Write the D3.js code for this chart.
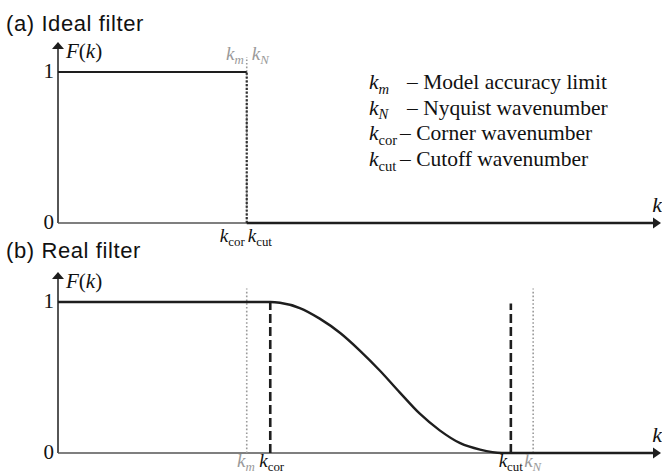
<!DOCTYPE html>
<html>
<head>
<meta charset="utf-8">
<script src="https://cdn.jsdelivr.net/npm/d3@7"></script>
<style>
  html, body { margin: 0; padding: 0; background: #fff; }
  svg { display: block; }
  .serif { font-family: "Liberation Serif", "Times New Roman", "DejaVu Serif", serif; }
  .sans { font-family: "Liberation Sans", Arial, Helvetica, sans-serif; }
</style>
</head>
<body>
<svg id="chart" width="662" height="476"></svg>
<script>
// ---------- data ----------
const panelTitles = ["(a) Ideal filter", "(b) Real filter"];
const yTickValues = [0, 1];
const kDomain = [0, 10];

// (a) ideal filter: all four wavenumbers coincide
const idealK = 3.13;
const idealResponseK = [0, 3.13, 3.13, 9.9];
const idealResponseF = [1, 1, 0, 0];

// (b) real filter marker wavenumbers
const realMarkerNames = ["km", "kcor", "kcut", "kN"];
const realMarkerK = [3.13, 3.52, 7.51, 7.88];
const realMarkerTop = [1.09, 1.0, 0.99, 1.09];

// (b) real filter response
const realCurveK = [0, 3.52, 3.68, 4.01, 4.34, 4.68, 5.01, 5.34, 5.67, 6.00, 6.33, 6.67, 7.00, 7.36, 9.9];
const realCurveF = [1, 1, 0.995, 0.96, 0.89, 0.795, 0.677, 0.545, 0.40, 0.26, 0.15, 0.065, 0.022, 0, 0];

// legend
const legendSub = ["m", "N", "cor", "cut"];
const legendSubItalic = [true, true, false, false];
const legendText = ["– Model accuracy limit", "– Nyquist wavenumber", "– Corner wavenumber", "– Cutoff wavenumber"];

// ---------- drawing ----------
const svg = d3.select("#chart");
const DARK = "#1e1e1e";
const GRAY = "#9a9a9a";

const x = d3.scaleLinear().domain(kDomain).range([58, 661]);
const yA = d3.scaleLinear().domain([0, 1]).range([223, 72]);
const yB = d3.scaleLinear().domain([0, 1]).range([453, 302]);

function kLabel(g, px, py, sub, subItalic, anchor, color, size) {
  const t = g.append("text")
    .attr("class", "serif")
    .attr("x", px).attr("y", py)
    .attr("text-anchor", anchor)
    .attr("font-size", size)
    .attr("fill", color);
  t.append("tspan").attr("font-style", "italic").text("k");
  t.append("tspan")
    .attr("font-size", size * 0.68)
    .attr("dy", size * 0.22)
    .attr("font-style", subItalic ? "italic" : "normal")
    .text(sub);
  return t;
}

function drawAxes(g, y, titleText, titleY) {
  g.append("text")
    .attr("class", "sans")
    .attr("x", 6).attr("y", titleY)
    .attr("font-size", 22)
    .attr("letter-spacing", 0.6)
    .attr("fill", "#111")
    .text(titleText);

  const x0 = x(0);
  const y0 = y(0);
  const yTop = y(1) - 30;
  g.append("line")
    .attr("x1", x0).attr("x2", x0)
    .attr("y1", y0).attr("y2", yTop + 6)
    .attr("stroke", DARK).attr("stroke-width", 1.5);
  g.append("path")
    .attr("d", `M${x0},${yTop} L${x0 - 6},${yTop + 7} L${x0 + 6},${yTop + 7} Z`)
    .attr("fill", DARK);

  g.append("line")
    .attr("x1", x0).attr("x2", x(kDomain[1]) - 6)
    .attr("y1", y0).attr("y2", y0)
    .attr("stroke", "#555").attr("stroke-width", 1.3);
  const xe = x(kDomain[1]);
  g.append("path")
    .attr("d", `M${xe},${y0} L${xe - 8},${y0 - 5.5} L${xe - 8},${y0 + 5.5} Z`)
    .attr("fill", DARK);

  g.selectAll("text.ytick").data(yTickValues).enter().append("text")
    .attr("class", "ytick serif")
    .attr("x", x0 - 4)
    .attr("y", d => y(d) + 6)
    .attr("text-anchor", "end")
    .attr("font-size", 21)
    .attr("fill", "#111")
    .text(d => d3.format("d")(d));

  const f = g.append("text")
    .attr("class", "serif")
    .attr("x", x0 + 8).attr("y", y(1) - 14)
    .attr("font-size", 21).attr("fill", "#111");
  f.append("tspan").attr("font-style", "italic").text("F");
  f.append("tspan").text("(");
  f.append("tspan").attr("font-style", "italic").text("k");
  f.append("tspan").text(")");

  g.append("text")
    .attr("class", "serif")
    .attr("x", 662).attr("y", y0 - 11)
    .attr("text-anchor", "end")
    .attr("font-size", 22)
    .attr("font-style", "italic").attr("fill", "#111")
    .text("k");
}

// ---------- panel (a) ----------
const gA = svg.append("g");
drawAxes(gA, yA, panelTitles[0], 31);

gA.append("line")
  .attr("x1", x(idealK)).attr("x2", x(idealK))
  .attr("y1", yA(0)).attr("y2", yA(1.1))
  .attr("stroke", GRAY).attr("stroke-width", 1.6)
  .attr("stroke-dasharray", "1.6,2");
gA.append("line")
  .attr("x1", x(idealK)).attr("x2", x(idealK))
  .attr("y1", yA(0)).attr("y2", yA(1))
  .attr("stroke", "#333").attr("stroke-width", 2.2)
  .attr("stroke-dasharray", "2.2,1.6");

gA.append("line")
  .attr("x1", x(idealResponseK[0])).attr("x2", x(idealResponseK[1]))
  .attr("y1", yA(idealResponseF[0])).attr("y2", yA(idealResponseF[1]))
  .attr("stroke", DARK).attr("stroke-width", 2.2);
gA.append("line")
  .attr("x1", x(idealResponseK[2])).attr("x2", x(idealResponseK[3]))
  .attr("y1", yA(idealResponseF[2])).attr("y2", yA(idealResponseF[3]))
  .attr("stroke", DARK).attr("stroke-width", 2.6);

kLabel(gA, x(idealK) - 3, yA(1.1) + 3, "m", true, "end", GRAY, 19);
kLabel(gA, x(idealK) + 5, yA(1.1) + 3, "N", true, "start", GRAY, 19);
kLabel(gA, x(idealK) - 2, yA(0) + 19, "cor", false, "end", "#111", 19);
kLabel(gA, x(idealK) + 1, yA(0) + 19, "cut", false, "start", "#111", 19);

const legend = gA.append("g");
legendSub.forEach((s, i) => {
  const ly = 89 + i * 25.6;
  kLabel(legend, 369, ly, s, legendSubItalic[i], "start", "#111", 21.5);
  legend.append("text")
    .attr("class", "serif")
    .attr("x", i < 2 ? 407 : 400).attr("y", ly)
    .attr("font-size", 21.5)
    .attr("fill", "#111")
    .text(legendText[i]);
});

// ---------- panel (b) ----------
const gB = svg.append("g");
drawAxes(gB, yB, panelTitles[1], 258);

const markerStyle = {
  km:   {color: GRAY, width: 1.6, dash: "1.6,2.2"},
  kN:   {color: GRAY, width: 1.6, dash: "1.6,2.2"},
  kcor: {color: DARK, width: 2.6, dash: "9,4"},
  kcut: {color: DARK, width: 2.6, dash: "9,4"}
};
realMarkerNames.forEach((n, i) => {
  const st = markerStyle[n];
  gB.append("line")
    .attr("x1", x(realMarkerK[i])).attr("x2", x(realMarkerK[i]))
    .attr("y1", yB(0)).attr("y2", yB(realMarkerTop[i]))
    .attr("stroke", st.color).attr("stroke-width", st.width)
    .attr("stroke-dasharray", st.dash);
});

const curvePts = realCurveK.map((k, i) => [k, realCurveF[i]]);
gB.append("path")
  .attr("d", d3.line().x(d => x(d[0])).y(d => yB(d[1])).curve(d3.curveMonotoneX)(curvePts))
  .attr("fill", "none").attr("stroke", DARK).attr("stroke-width", 2.4);

const markerSub = {km: "m", kN: "N", kcor: "cor", kcut: "cut"};
const markerSubItalic = {km: true, kN: true, kcor: false, kcut: false};
const markerColor = {km: GRAY, kN: GRAY, kcor: "#111", kcut: "#111"};
const markerAnchor = {km: "end", kcor: "start", kcut: "end", kN: "start"};
const markerOffset = {km: 8, kcor: -11, kcut: 12, kN: -9};
realMarkerNames.forEach((n, i) => {
  kLabel(gB, x(realMarkerK[i]) + markerOffset[n], yB(0) + 14, markerSub[n], markerSubItalic[n],
    markerAnchor[n], markerColor[n], 19);
});
</script>
</body>
</html>
